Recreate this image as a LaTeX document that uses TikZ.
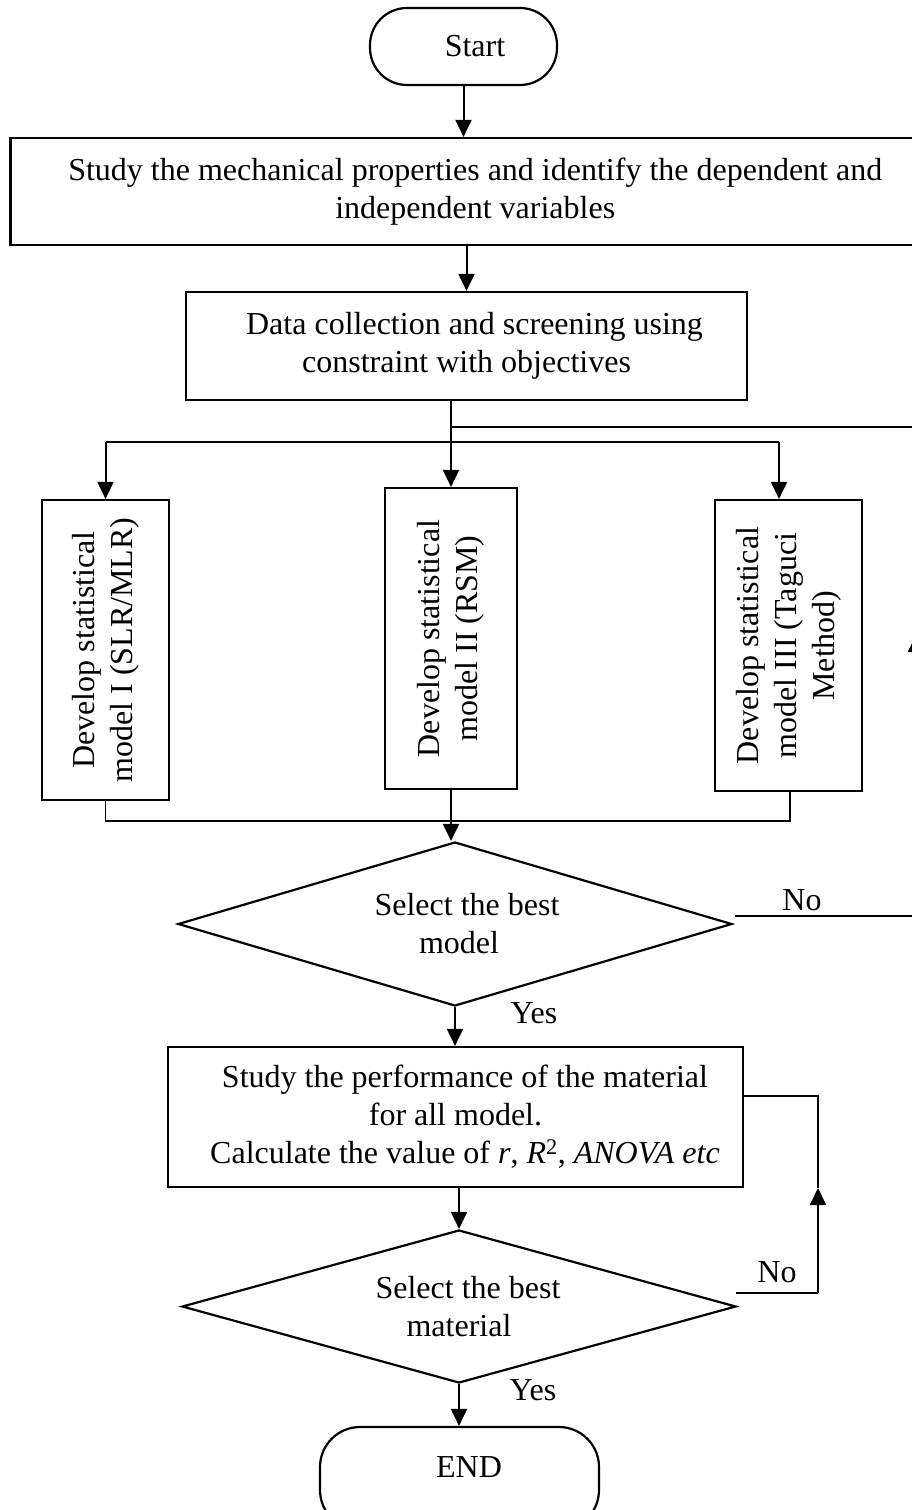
\documentclass[tikz,border=0pt]{standalone}
\usepackage{fontspec}
\setmainfont{Liberation Serif}
\usetikzlibrary{arrows.meta,shapes.geometric}
\begin{document}
\begin{tikzpicture}[x=1pt,y=-1pt,
  every node/.style={font=\fontsize{32pt}{38pt}\selectfont},
  boxs/.style={draw,line width=2.2pt,inner sep=0pt,align=center},
  arr/.style={line width=2pt,-{Triangle[width=16pt,length=17pt]}},
  thinl/.style={line width=1.2pt},
  lbl/.style={inner sep=0pt}]
\useasboundingbox (0,0) rectangle (912,1510);
\clip (0,0) rectangle (912,1510);
\fill[white] (0,0) rectangle (912,1510);

% nodes
\node[boxs, rounded corners=37pt, minimum width=187pt, minimum height=77pt] (start) at (463.5,46.5) {\hspace*{23pt}Start};
\node[boxs, minimum width=929.5pt, minimum height=107pt] (study) at (475.25,191.5) {Study the mechanical properties and identify the dependent and\\independent variables};
\node[boxs, minimum width=561pt, minimum height=108pt] (data) at (466.5,346) {\hspace*{16pt}Data collection and screening using\\constraint with objectives};

% rotated boxes: page top = east anchor, page bottom = west anchor
\node[boxs, rotate=90, minimum width=300pt, minimum height=127pt] (m1) at (105.5,650) {Develop statistical\\model I (SLR/MLR)};
\node[boxs, rotate=90, minimum width=301pt, minimum height=132pt] (m2) at (451,638.5) {Develop statistical\\model II (RSM)};
\node[boxs, rotate=90, minimum width=291pt, minimum height=147pt] (m3) at (788.5,645.5) {Develop statistical\\model III (Taguci\\Method)};

\node[boxs, diamond, aspect=3.4, minimum width=554pt, minimum height=164pt] (d1) at (455,924) {\hspace*{24pt}Select the best\\\hspace*{8pt}model};

\node[boxs, minimum width=575pt, minimum height=140pt] (perf) at (455.5,1117) {\hspace*{19pt}Study the performance of the material\\for all model.\\\hspace*{19pt}Calculate the value of \textit{r}, \textit{R}\textsuperscript{2}, \textit{ANOVA etc}};

\node[boxs, diamond, aspect=3.6, minimum width=554pt, minimum height=153pt] (d2) at (459,1306.5) {\hspace*{18pt}Select the best\\material};

\node[boxs, rounded corners=40pt, minimum width=279pt, minimum height=103pt, text height=21.2pt, text depth=23pt] (end) at (459.5,1478.5) {\hspace*{19pt}END};

% labels
\node[lbl] (no1) at (802,900) {No};
\node[lbl] (yes1) at (534,1013) {Yes};
\node[lbl] (no2) at (777,1272) {No};
\node[lbl] (yes2) at (533,1390) {Yes};

% coordinates
\coordinate (b1) at (105.5,442);
\coordinate (b3) at (779,442);
\coordinate (t1) at (451,427);
\coordinate (t2) at (916,427);
\coordinate (c1) at (105.5,821);
\coordinate (c3) at (790,821);
\coordinate (n1) at (735,916);
\coordinate (n2) at (916,916);
\coordinate (n3) at (916,635);
\coordinate (l1) at (736,1293);
\coordinate (l2) at (818,1293);
\coordinate (l3) at (818,1188);
\coordinate (l4) at (818,1096);

% connectors
\draw[arr] (start.south) -- (start.south |- study.north);
\draw[arr] (data.north |- study.south) -- (data.north);
\draw[arr] (m2.east |- data.south) -- (m2.east);
\draw[thinl] (t1) -- (t2);
\draw[thinl] (b1) -- (b3);
\draw[arr] (b1) -- (b1 |- m1.east);
\draw[arr] (b3) -- (b3 |- m3.east);

\draw[thinl] (m1.west) -- (c1) -- (c3) -- (c3 |- m3.west);
\draw[arr] (m2.west) -- (m2.west |- d1.north);

\draw[thinl] (n1) -- (n2);
\draw[arr] (n2) -- (n3);
\draw[thinl] (n3) -- (t2);

\draw[arr] (d1.south) -- (d1.south |- perf.north);
\draw[arr] (d2.north |- perf.south) -- (d2.north);

\draw[thinl] (l1) -- (l2);
\draw[arr] (l2) -- (l3);
\draw[thinl] (l3) -- (l4) -- (perf.east |- l4);

\draw[arr] (d2.south) -- (d2.south |- end.north);
\end{tikzpicture}
\end{document}
